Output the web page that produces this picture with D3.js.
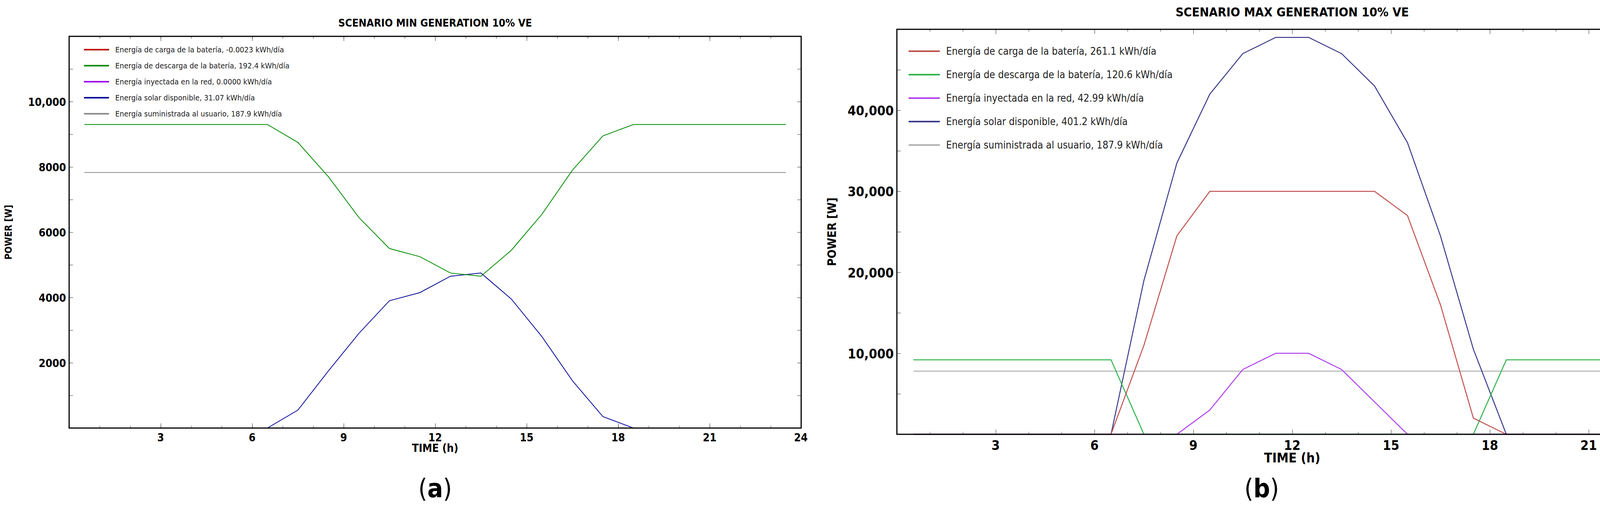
<!DOCTYPE html><html><head><meta charset="utf-8"><script src="https://cdn.jsdelivr.net/npm/d3@7"></script>
<style>html,body{margin:0;background:#fff;overflow:hidden}svg{display:block}text{font-family:"DejaVu Sans Condensed","DejaVu Sans",sans-serif}</style></head><body>
<svg id="c" width="4345" height="1320"></svg>
<script>
const hours=d3.range(0.5,24,1);
const minCharge=Array(24).fill(0);
const minDischarge=[9300,9300,9300,9300,9300,9300,9300,8750,7700,6450,5500,5250,4750,4650,5450,6550,7900,8950,9300,9300,9300,9300,9300,9300];
const minInject=Array(24).fill(0);
const minSolar=[0,0,0,0,0,0,0,550,1750,2900,3900,4150,4650,4750,3950,2800,1450,350,0,0,0,0,0,0];
const minUser=Array(24).fill(7830);
const maxCharge=[0,0,0,0,0,0,0,11000,24500,30000,30000,30000,30000,30000,30000,27000,16000,2000,0,0,0,0,0,0];
const maxDischarge=[9200,9200,9200,9200,9200,9200,9200,0,0,0,0,0,0,0,0,0,0,0,9200,9200,9200,9200,9200,9200];
const maxInject=[0,0,0,0,0,0,0,0,0,3000,8000,10000,10000,8000,4000,0,0,0,0,0,0,0,0,0];
const maxSolar=[0,0,0,0,0,0,0,19000,33500,42000,47000,49000,49000,47000,43000,36000,24500,10500,0,0,0,0,0,0];
const maxUser=Array(24).fill(7800);
const xTicks=[3,6,9,12,15,18,21,24];
const minLabels=["Energía de carga de la batería,  -0.0023 kWh/día","Energía de descarga de la batería,  192.4 kWh/día","Energía inyectada en la red,  0.0000 kWh/día","Energía solar disponible,  31.07 kWh/día","Energía suministrada al usuario,  187.9 kWh/día"];
const maxLabels=["Energía de carga de la batería,  261.1 kWh/día","Energía de descarga de la batería,  120.6 kWh/día","Energía inyectada en la red,  42.99 kWh/día","Energía solar disponible,  401.2 kWh/día","Energía suministrada al usuario,  187.9 kWh/día"];
const colsA=["#c00000","#008c00","#a000f0","#0a0a9a","#8c8c8c"];
const colsB=["#c0504d","#2db34a","#b040f0","#3a3a8c","#b0b0b0"];
const svg=d3.select("#c");
function panel(o){
  const g=svg.append("g");
  const x=d3.scaleLinear().domain([0,24]).range([o.x0,o.x1]);
  const y=d3.scaleLinear().domain([0,o.ymax]).range([o.y1,o.y0]);
  g.append("text").attr("x",(o.x0+o.x1)/2).attr("y",o.ty).attr("text-anchor","middle").attr("font-weight","bold").attr("font-size",o.tf).text(o.title);
  const tk=(ax,t)=>ax.tickSize(t).tickFormat("");
  g.append("g").attr("transform",`translate(0,${o.y1})`).call(tk(d3.axisTop(x).tickValues(d3.range(1,24)),6)).call(s=>s.select(".domain").remove());
  g.append("g").attr("transform",`translate(0,${o.y1})`).call(tk(d3.axisTop(x).tickValues(xTicks),12)).call(s=>s.select(".domain").remove());
  g.append("g").attr("transform",`translate(0,${o.y0})`).call(tk(d3.axisBottom(x).tickValues(d3.range(1,24)),6)).call(s=>s.select(".domain").remove());
  g.append("g").attr("transform",`translate(0,${o.y0})`).call(tk(d3.axisBottom(x).tickValues(xTicks),12)).call(s=>s.select(".domain").remove());
  g.append("g").attr("transform",`translate(${o.x0},0)`).call(tk(d3.axisRight(y).tickValues(d3.range(o.ystep,o.ymax,o.ystep)),10)).call(s=>s.select(".domain").remove());
  g.append("g").attr("transform",`translate(${o.x1},0)`).call(tk(d3.axisLeft(y).tickValues(d3.range(o.ystep,o.ymax,o.ystep)),10)).call(s=>s.select(".domain").remove());
  g.selectAll(".tick line").attr("stroke","#333");
  g.append("g").selectAll("text").data(xTicks).join("text").attr("x",d=>x(d)).attr("y",o.y1+o.lf+6).attr("text-anchor",d=>d===24?"end":"middle").attr("dx",d=>d===24?o.lf*0.6:0).attr("font-weight","bold").attr("font-size",o.lf).text(d=>d);
  g.append("g").selectAll("text").data(o.yLabels).join("text").attr("x",o.x0-8).attr("y",d=>y(d)+o.lf*0.38).attr("text-anchor","end").attr("font-weight","bold").attr("font-size",o.lf).text(d=>d>=10000?d3.format(",")(d):d);
  g.append("text").attr("x",(o.x0+o.x1)/2).attr("y",o.y1+o.lf*1.95+6).attr("text-anchor","middle").attr("font-weight","bold").attr("font-size",o.lf).text("TIME (h)");
  g.append("text").attr("transform",`translate(${o.yl},${(o.y0+o.y1)/2}) rotate(-90)`).attr("text-anchor","middle").attr("font-weight","bold").attr("font-size",o.pf).attr("font-family","DejaVu Sans").text("POWER [W]");
  const line=d3.line().x((d,i)=>x(hours[i])).y(d=>y(d));
  [4,3,2,1,0].forEach(i=>g.append("path").attr("d",line(o.series[i])).attr("fill","none").attr("stroke",o.cols[i]).attr("stroke-width",o.sw));
  g.append("rect").attr("x",o.x0).attr("y",o.y0).attr("width",o.x1-o.x0).attr("height",o.y1-o.y0).attr("fill","none").attr("stroke","#000").attr("stroke-width",3);
  o.labels.forEach((l,i)=>{const yy=o.ly0+i*o.ldy;
    g.append("line").attr("x1",o.lx).attr("x2",o.lx+o.llen).attr("y1",yy).attr("y2",yy).attr("stroke",o.cols[i]).attr("stroke-width",4);
    g.append("text").attr("x",o.lx+o.llen+16).attr("y",yy+o.lgf*0.35).attr("font-size",o.lgf).attr("fill","#222").text(l);});
  g.append("text").attr("x",o.cap).attr("y",1272).attr("text-anchor","middle").attr("font-family","Liberation Serif").attr("font-size",66).text("(").append("tspan").attr("font-weight","bold").text(o.letter).append("tspan").attr("font-weight","normal").text(")");
}
panel({x0:177,x1:2051,y0:93,y1:1095,ymax:12000,ystep:1000,yLabels:[2000,4000,6000,8000,10000],title:"SCENARIO MIN GENERATION 10% VE",ty:68,tf:27,lf:28,pf:24,yl:30,
  series:[minCharge,minDischarge,minInject,minSolar,minUser],cols:colsA,sw:2,labels:minLabels,lx:215,llen:64,ly0:127,ldy:41,lgf:20,cap:1114,letter:"a"});
panel({x0:2296,x1:4320,y0:75,y1:1111,ymax:50000,ystep:5000,yLabels:[10000,20000,30000,40000],title:"SCENARIO MAX GENERATION 10% VE",ty:42,tf:32,lf:34,pf:30,yl:2140,
  series:[maxCharge,maxDischarge,maxInject,maxSolar,maxUser],cols:colsB,sw:2.5,labels:maxLabels,lx:2326,llen:80,ly0:131,ldy:60,lgf:26,cap:3230,letter:"b"});
</script></body></html>
